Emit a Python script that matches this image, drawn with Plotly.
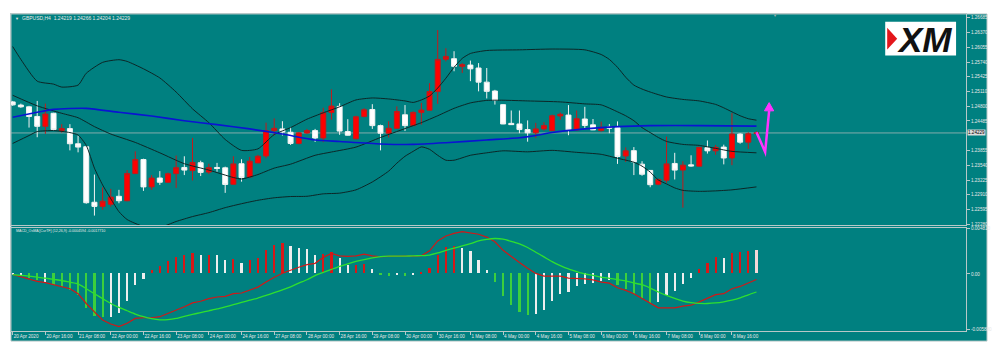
import plotly.graph_objects as go

# ---------------- DATA ----------------
bars = list(range(92))

open_ = [1.24890, 1.24823, 1.24785, 1.24580, 1.24370, 1.24648, 1.24279, 1.24322, 1.23999, 1.23936,
         1.22753, 1.22665, 1.22711, 1.22880, 1.22785, 1.23364, 1.23663, 1.23080, 1.23269, 1.23179,
         1.23364, 1.23494, 1.23427, 1.23595, 1.23395, 1.23494, 1.23486, 1.23136, 1.23574, 1.23290,
         1.23591, 1.23738, 1.24279, 1.24315, 1.24244, 1.24006, 1.24227, 1.24279, 1.24122, 1.24665,
         1.24795, 1.24258, 1.24105, 1.24580, 1.24728, 1.24385, 1.24223, 1.24328, 1.24616, 1.24385,
         1.24665, 1.24715, 1.25111, 1.25799, 1.25810, 1.25648, 1.25675, 1.25612, 1.25311, 1.25122,
         1.24831, 1.24433, 1.24420, 1.24301, 1.24231, 1.24315, 1.24279, 1.24591, 1.24610, 1.24294,
         1.24526, 1.24402, 1.24279, 1.24353, 1.24343, 1.23738, 1.23852, 1.23564, 1.23431, 1.23136,
         1.23223, 1.23579, 1.23438, 1.23549, 1.23522, 1.23915, 1.23848, 1.23928, 1.23696, 1.24206,
         1.24033, 1.24219]
high = [1.24911, 1.24854, 1.24806, 1.24911, 1.24854, 1.24658, 1.24416, 1.24416, 1.24174, 1.23953,
        1.23343, 1.23069, 1.23038, 1.23017, 1.23438, 1.23837, 1.23680, 1.23332, 1.23416, 1.23385,
        1.23747, 1.23732, 1.24122, 1.23638, 1.23574, 1.23591, 1.23511, 1.23732, 1.23669, 1.23717,
        1.23764, 1.24448, 1.24538, 1.24479, 1.24349, 1.24244, 1.24315, 1.24315, 1.24764, 1.25157,
        1.24863, 1.24522, 1.24595, 1.24757, 1.24842, 1.24406, 1.24479, 1.24795, 1.24823, 1.24690,
        1.24869, 1.25290, 1.26420, 1.26033, 1.25970, 1.25717, 1.25770, 1.25717, 1.25612, 1.25147,
        1.24842, 1.24707, 1.24707, 1.24496, 1.24444, 1.24458, 1.24620, 1.24663, 1.24823, 1.24707,
        1.24785, 1.24526, 1.24469, 1.24420, 1.24475, 1.23922, 1.23928, 1.23627, 1.23438, 1.23259,
        1.24153, 1.23806, 1.23627, 1.23753, 1.23932, 1.24069, 1.23974, 1.23979, 1.24652, 1.24223,
        1.24244, 1.24266]
low = [1.24806, 1.24764, 1.24343, 1.24138, 1.24210, 1.24279, 1.24237, 1.23858, 1.23816, 1.22722,
       1.22469, 1.22596, 1.22659, 1.22732, 1.22774, 1.23353, 1.22995, 1.23017, 1.23122, 1.23164,
       1.23059, 1.23332, 1.23217, 1.23311, 1.23353, 1.23402, 1.22953, 1.23122, 1.23191, 1.23269,
       1.23585, 1.23690, 1.24174, 1.24174, 1.23974, 1.23985, 1.24210, 1.24037, 1.24033, 1.24511,
       1.24189, 1.24174, 1.24090, 1.24559, 1.24315, 1.23858, 1.24132, 1.24322, 1.24269, 1.24374,
       1.24406, 1.24711, 1.24848, 1.25753, 1.25543, 1.25507, 1.25332, 1.25115, 1.24964, 1.24833,
       1.24416, 1.24402, 1.24223, 1.24043, 1.24122, 1.24279, 1.24269, 1.24511, 1.24181, 1.24273,
       1.24328, 1.24290, 1.24258, 1.24223, 1.23570, 1.23612, 1.23332, 1.23317, 1.23073, 1.23115,
       1.23170, 1.23238, 1.22638, 1.23511, 1.23511, 1.23789, 1.23764, 1.23560, 1.23543, 1.23999,
       1.23890, 1.24204]
close = [1.24827, 1.24785, 1.24580, 1.24370, 1.24631, 1.24301, 1.24322, 1.23999, 1.23928, 1.22743,
         1.22665, 1.22774, 1.22863, 1.22785, 1.23364, 1.23663, 1.23080, 1.23269, 1.23179, 1.23360,
         1.23490, 1.23438, 1.23600, 1.23389, 1.23490, 1.23473, 1.23132, 1.23570, 1.23280, 1.23627,
         1.23732, 1.24279, 1.24328, 1.24248, 1.24006, 1.24231, 1.24279, 1.24122, 1.24658, 1.24802,
         1.24269, 1.24181, 1.24574, 1.24722, 1.24385, 1.24223, 1.24328, 1.24686, 1.24385, 1.24665,
         1.24717, 1.25111, 1.25795, 1.25858, 1.25648, 1.25683, 1.25595, 1.25311, 1.25115, 1.24928,
         1.24420, 1.24406, 1.24301, 1.24231, 1.24315, 1.24385, 1.24595, 1.24627, 1.24294, 1.24532,
         1.24389, 1.24294, 1.24347, 1.24332, 1.23727, 1.23848, 1.23612, 1.23349, 1.23127, 1.23238,
         1.23570, 1.23438, 1.23543, 1.23528, 1.23922, 1.23848, 1.23922, 1.23696, 1.24206, 1.24033,
         1.24212, 1.24229]

# Bollinger bands and moving average, read at sample bars
bb_upper_x = [0, 1, 3, 5, 6, 8, 9, 11, 13, 14, 16, 18, 20, 22, 24, 26, 28, 30, 32, 34, 36, 38, 40, 42,
              44, 46, 48, 49, 50, 51, 52, 53, 54, 55, 56, 58, 62, 66, 70, 72, 73, 74, 75, 76, 77, 78,
              80, 82, 84, 86, 87, 88, 89, 90, 91]
bb_upper = [1.26069, 1.25795, 1.25332, 1.25269, 1.25206, 1.25248, 1.25500, 1.25732, 1.25789, 1.25753,
            1.25595, 1.25401, 1.25100, 1.24743, 1.24448, 1.24090, 1.23858, 1.23890, 1.24195, 1.24343,
            1.24522, 1.24658, 1.24785, 1.24932, 1.24974, 1.24953, 1.24911, 1.24879, 1.24932, 1.25016,
            1.25185, 1.25395, 1.25627, 1.25816, 1.25921, 1.25985, 1.25999, 1.26016, 1.25999, 1.25900,
            1.25795, 1.25627, 1.25416, 1.25248, 1.25164, 1.25100, 1.24995, 1.24943, 1.24911, 1.24837,
            1.24764, 1.24679, 1.24595, 1.24532, 1.24501]
bb_mid_x = [0, 3, 6, 8, 10, 12, 15, 18, 21, 24, 27, 28, 30, 32, 34, 37, 39, 42, 45, 48, 50, 52, 54, 56,
            58, 60, 63, 67, 70, 72, 74, 75, 76, 77, 78, 79, 80, 82, 84, 86, 88, 91]
bb_mid = [1.25031, 1.24806, 1.24648, 1.24553, 1.24364, 1.24206, 1.24027, 1.23806, 1.23574, 1.23438,
          1.23280, 1.23248, 1.23343, 1.23480, 1.23564, 1.23753, 1.23823, 1.23928, 1.24132, 1.24322,
          1.24448, 1.24595, 1.24753, 1.24869, 1.24922, 1.24926, 1.24911, 1.24890, 1.24848, 1.24827,
          1.24679, 1.24595, 1.24490, 1.24343, 1.24237, 1.24132, 1.24048, 1.23985, 1.23964, 1.23901,
          1.23837, 1.23806]
bb_lower_x = [0, 2, 3, 5, 7, 8, 9, 10, 11, 12, 13, 14, 16, 18, 20, 22, 24, 26, 28, 30, 32, 34, 36, 38,
              40, 42, 44, 46, 47, 48, 49, 50, 51, 52, 53, 54, 56, 58, 60, 63, 66, 69, 72, 74, 76, 77,
              78, 79, 80, 81, 82, 84, 86, 88, 91]
bb_lower = [1.24006, 1.24174, 1.24258, 1.24279, 1.24237, 1.24185, 1.23964, 1.23480, 1.23122, 1.22827,
            1.22553, 1.22385, 1.22238, 1.22217, 1.22343, 1.22448, 1.22532, 1.22638, 1.22722, 1.22795,
            1.22848, 1.22875, 1.22880, 1.22932, 1.22947, 1.23017, 1.23185, 1.23416, 1.23585, 1.23732,
            1.23837, 1.23932, 1.23880, 1.23753, 1.23648, 1.23648, 1.23753, 1.23806, 1.23848, 1.23827,
            1.23858, 1.23816, 1.23774, 1.23690, 1.23606, 1.23522, 1.23395, 1.23227, 1.23143, 1.23059,
            1.23006, 1.22985, 1.22995, 1.23017, 1.23080]
ma_x = [0, 3, 5, 9, 13, 17, 21, 25, 29, 33, 37, 40, 45, 49, 53, 58, 62, 64, 66, 70, 74, 78, 84, 91]
ma = [1.24564, 1.24669, 1.24732, 1.24753, 1.24669, 1.24589, 1.24490, 1.24406, 1.24315, 1.24206,
      1.24080, 1.24048, 1.23995, 1.23985, 1.24021, 1.24080, 1.24126, 1.24174, 1.24237, 1.24315,
      1.24364, 1.24385, 1.24385, 1.24374]

# MACD / OsMA panel
osma = [-0.0001, -0.0001, -0.00052, -0.0007, -0.00087, -0.00122, -0.0014, -0.00175, -0.00227, -0.00367,
        -0.00454, -0.00465, -0.00465, -0.00419, -0.00287, -0.00122, -0.00063, 0.00035, 0.0008, 0.00133,
        0.00175, 0.00192, 0.00217, 0.00199, 0.00199, 0.00199, 0.0014, 0.0015, 0.00115, 0.0014,
        0.00164, 0.00245, 0.00297, 0.00321, 0.00287, 0.00272, 0.00255, 0.00199, 0.0021, 0.00227,
        0.00161, 0.00094, 0.00094, 0.00098, 0.00052, -0.00017, -0.0003, -0.0001, -0.0003, -0.0001,
        0.0001, 0.00063, 0.00192, 0.0028, 0.0029, 0.00272, 0.00238, 0.0014, 0.00035, -0.00087,
        -0.00244, -0.00339, -0.00409, -0.00437, -0.00426, -0.00384, -0.00297, -0.0022, -0.00192, -0.00133,
        -0.00115, -0.00098, -0.00077, -0.0007, -0.00122, -0.00164, -0.0022, -0.00262, -0.00314, -0.00304,
        -0.00227, -0.00182, -0.00115, -0.00052, 0.00052, 0.00112, 0.00175, 0.00164, 0.00217, 0.00227,
        0.00238, 0.00245]
osma_state = ["W", "W", "G", "G", "W", "G", "G", "G", "G", "G",
              "G", "G", "W", "W", "W", "W", "W", "R", "R", "R",
              "R", "R", "R", "W", "R", "W", "W", "R", "W", "R",
              "R", "R", "R", "R", "W", "W", "W", "W", "R", "R",
              "W", "W", "R", "R", "W", "G", "G", "W", "G", "W",
              "R", "R", "R", "R", "R", "W", "W", "W", "W", "G",
              "G", "G", "G", "G", "W", "W", "W", "W", "W", "W",
              "W", "W", "W", "W", "G", "G", "G", "G", "G", "W",
              "W", "W", "W", "W", "R", "R", "R", "W", "R", "R",
              "R", "P"]
macd_line = [-0.00007, -0.0003, -0.00052, -0.0008, -0.00092, -0.00115, -0.0013, -0.00157, -0.0021, -0.00314,
             -0.00402, -0.00489, -0.00531, -0.00559, -0.00524, -0.00472, -0.00465, -0.00465, -0.00454, -0.00419,
             -0.00391, -0.00349, -0.00307, -0.0029, -0.00262, -0.00245, -0.00238, -0.0021, -0.00203, -0.00175,
             -0.0014, -0.00087, -0.00035, 0.00007, 0.00042, 0.0007, 0.00098, 0.00112, 0.00175, 0.00217,
             0.00192, 0.00185, 0.00192, 0.0021, 0.00192, 0.00182, 0.00185, 0.00185, 0.00185, 0.00185,
             0.00192, 0.00245, 0.00349, 0.00402, 0.0043, 0.00447, 0.00437, 0.0042, 0.0039, 0.0034,
             0.0025, 0.0018, 0.0012, 0.0006, 0.00005, -0.00024, -0.00024, -0.00024, -0.00045, -0.00045,
             -0.00052, -0.00063, -0.00087, -0.00098, -0.00147, -0.00175, -0.0021, -0.00262, -0.00314, -0.0036,
             -0.0036, -0.0036, -0.00342, -0.00332, -0.00297, -0.00262, -0.0022, -0.0021, -0.00157, -0.00133,
             -0.00094, -0.00059]
signal_line = [-0.00007, -0.00015, -0.00024, -0.00035, -0.00045, -0.00058, -0.0007, -0.00088, -0.00105, -0.00157,
               -0.0021, -0.00262, -0.00314, -0.00356, -0.00391, -0.00426, -0.00454, -0.00475, -0.00487, -0.00485,
               -0.00472, -0.0045, -0.0043, -0.0041, -0.00391, -0.00372, -0.0035, -0.00327, -0.00302, -0.00279,
               -0.00256, -0.00228, -0.002, -0.0017, -0.00137, -0.00098, -0.00062, -0.00018, 0.00015, 0.00048,
               0.0008, 0.00107, 0.00132, 0.00152, 0.0017, 0.00184, 0.00189, 0.00189, 0.00189, 0.00191,
               0.00194, 0.002, 0.00222, 0.0025, 0.00274, 0.00296, 0.0032, 0.00349, 0.00365, 0.00375,
               0.00368, 0.00345, 0.00318, 0.0028, 0.0023, 0.0018, 0.0013, 0.00088, 0.00052, 0.00025,
               0.0, -0.00016, -0.00034, -0.00047, -0.0006, -0.00075, -0.00096, -0.00115, -0.0015, -0.00192,
               -0.00228, -0.0026, -0.00288, -0.00305, -0.00313, -0.00314, -0.00308, -0.00296, -0.00279, -0.00255,
               -0.00222, -0.00192]

time_tick_bars = [0, 4, 8, 12, 16, 20, 24, 28, 32, 36, 40, 44, 48, 52, 56, 60, 64, 68, 72, 76, 80, 84, 88]
time_tick_labels = ["20 Apr 2020", "20 Apr 16:00", "21 Apr 08:00", "22 Apr 00:00", "22 Apr 16:00",
                    "23 Apr 08:00", "24 Apr 00:00", "24 Apr 16:00", "27 Apr 08:00", "28 Apr 00:00",
                    "28 Apr 16:00", "29 Apr 08:00", "30 Apr 00:00", "30 Apr 16:00", "1 May 08:00",
                    "4 May 00:00", "4 May 16:00", "5 May 08:00", "6 May 00:00", "6 May 16:00",
                    "7 May 08:00", "8 May 00:00", "8 May 16:00"]
price_ticks = [1.26685, 1.26370, 1.26055, 1.25740, 1.25425, 1.25110, 1.24800, 1.24485,
               1.23855, 1.23540, 1.23225, 1.22910, 1.22595, 1.22280]
price_tick_labels = ["1.26685", "1.26370", "1.26055", "1.25740", "1.25425", "1.25110", "1.24800",
                     "1.24485", "1.23855", "1.23540", "1.23225", "1.22910", "1.22595", "1.22280"]
macd_ticks = [0.00481, 0.0, -0.00588]
macd_tick_labels = ["0.004810", "0.00", "-0.005880"]

# arrow drawing (chart object) in bar / price units
arrow_bar = [91.0, 92.06, 92.55]
arrow_price = [1.24244, 1.23823, 1.24700]
arrow_head_bar = [91.98, 92.55, 93.11]
arrow_head_price = [1.24700, 1.24875, 1.24700]

# ---------------- LAYOUT HELPERS ----------------
# page has an 8px body margin: figure is sized to fit the window exactly
OFF = 8
W, H = 1000 - 2 * OFF, 359 - 2 * OFF
def px(x):
    return (x - OFF) / W
def py(y):
    return 1 - (y - OFF) / H

TEAL = "#008080"
FRAME = "#b8c8c8"
TXT = "#e8e8e8"
FONT = "Liberation Sans"

state_color = {"W": "#eeeeee", "G": "#3ccf3c", "R": "#d81818", "P": "#f4d8d8"}

fig = go.Figure()

fig.add_trace(go.Candlestick(
    x=bars, open=open_, high=high, low=low, close=close,
    increasing=dict(line=dict(color="#c41a1a", width=1), fillcolor="#ff0000"),
    decreasing=dict(line=dict(color="#f2f2f2", width=1), fillcolor="#ffffff"),
    whiskerwidth=0, showlegend=False, hoverinfo="skip", xaxis="x", yaxis="y"))

for xs, ys in [(bb_upper_x, bb_upper), (bb_mid_x, bb_mid), (bb_lower_x, bb_lower)]:
    fig.add_trace(go.Scatter(x=xs, y=ys, mode="lines", line=dict(color="#0c2626", width=1, shape="spline", smoothing=0.6),
                             showlegend=False, hoverinfo="skip", xaxis="x", yaxis="y"))
fig.add_trace(go.Scatter(x=ma_x, y=ma, mode="lines", line=dict(color="#0a14d2", width=1.6, shape="spline", smoothing=0.6),
                         showlegend=False, hoverinfo="skip", xaxis="x", yaxis="y"))

fig.add_trace(go.Bar(x=bars, y=osma, width=0.27, marker=dict(color=[state_color[s] for s in osma_state], line=dict(width=0)),
                     showlegend=False, hoverinfo="skip", xaxis="x2", yaxis="y2"))
fig.add_trace(go.Scatter(x=bars, y=macd_line, mode="lines", line=dict(color="#d01818", width=1.2),
                         showlegend=False, hoverinfo="skip", xaxis="x2", yaxis="y2"))
fig.add_trace(go.Scatter(x=bars, y=signal_line, mode="lines", line=dict(color="#2ee02e", width=1.3, shape="spline", smoothing=0.6),
                         showlegend=False, hoverinfo="skip", xaxis="x2", yaxis="y2"))

def price_at(y):
    return 1.27016 - 0.0002105 * y

x_range = [(11 - 12.7) / 8.19, (968 - 12.7) / 8.19]
axis_common = dict(showgrid=False, zeroline=False, showline=True, mirror=True, linecolor=FRAME, linewidth=1)

fig.update_layout(
    width=W, height=H, margin=dict(l=0, r=0, t=0, b=0),
    paper_bgcolor="white", plot_bgcolor=TEAL,
    boxgap=0.13, boxgroupgap=0.3,
    bargap=0,
    xaxis=dict(domain=[px(11), px(968)], range=x_range, anchor="y", showticklabels=False, ticks="",
               rangeslider=dict(visible=False), **axis_common),
    yaxis=dict(domain=[py(226), py(12)], range=[price_at(226), price_at(12)], anchor="x", side="right",
               tickvals=price_ticks, ticktext=price_tick_labels, ticks="outside", ticklen=3, tickcolor=FRAME,
               tickfont=dict(size=4.6, color=TXT, family=FONT), **axis_common),
    xaxis2=dict(domain=[px(11), px(968)], range=x_range, anchor="y2", matches="x",
                tickvals=time_tick_bars, ticktext=time_tick_labels, ticks="outside", ticklen=3, tickcolor=FRAME,
                ticklabelposition="outside right", tickangle=0,
                tickfont=dict(size=4.6, color=TXT, family=FONT), **axis_common),
    yaxis2=dict(domain=[py(333), py(229)], range=[(275 - 333) * 0.0001048, (275 - 229) * 0.0001048], anchor="x2",
                side="right", tickvals=macd_ticks, ticktext=macd_tick_labels, ticks="outside", ticklen=3,
                tickcolor=FRAME, tickfont=dict(size=4.6, color=TXT, family=FONT), **axis_common),
)

shapes = [
    dict(type="rect", xref="paper", yref="paper", x0=px(11), x1=px(989), y0=py(343), y1=py(12),
         fillcolor=TEAL, line=dict(color=FRAME, width=1), layer="below"),
    dict(type="line", xref="x domain", yref="y", x0=0, x1=1, y0=close[-1], y1=close[-1],
         line=dict(color="rgba(175,185,185,0.75)", width=1), layer="below"),
    dict(type="rect", xref="paper", yref="paper", x0=px(887), x1=px(958), y0=py(54), y1=py(20),
         fillcolor="white", line=dict(width=0), layer="above"),
    dict(type="path", xref="paper", yref="paper",
         path=f"M {px(889)},{py(26)} L {px(899)},{py(37)} L {px(889)},{py(48)} Z",
         fillcolor="#e3161b", line=dict(width=0), layer="above"),
    dict(type="path", xref="x", yref="y",
         path="M {},{} L {},{} L {},{}".format(arrow_bar[0], arrow_price[0], arrow_bar[1], arrow_price[1],
                                               arrow_bar[2], arrow_price[2]),
         line=dict(color="#ff33ff", width=2.5), layer="above"),
    dict(type="path", xref="x", yref="y",
         path="M {},{} L {},{} L {},{} Z".format(arrow_head_bar[0], arrow_head_price[0], arrow_head_bar[1],
                                                 arrow_head_price[1], arrow_head_bar[2], arrow_head_price[2]),
         fillcolor="#ff33ff", line=dict(color="#ff33ff", width=1), layer="above"),
]
fig.update_layout(shapes=shapes)

annotations = [
    dict(xref="paper", yref="paper", x=px(13), y=py(16.5), xanchor="left", yanchor="middle", showarrow=False,
         text="▼", font=dict(size=4, color=TXT, family=FONT)),
    dict(xref="paper", yref="paper", x=px(20), y=py(16.5), xanchor="left", yanchor="middle", showarrow=False,
         text="GBPUSD,H4  1.24219 1.24266 1.24204 1.24229", font=dict(size=5, color=TXT, family=FONT)),
    dict(xref="paper", yref="paper", x=px(14), y=py(232), xanchor="left", yanchor="middle", showarrow=False,
         text="MACD_OsMA [CurTF] (12,26,9) -0.0004594 -0.0017710", font=dict(size=3.6, color=TXT, family=FONT)),
    dict(xref="paper", yref="y", x=px(969), y=close[-1], xanchor="left", yanchor="middle", showarrow=False,
         text="1.24229", bgcolor="#dcdcdc", borderpad=0, font=dict(size=4.6, color="#000000", family=FONT)),
    dict(xref="paper", yref="paper", x=px(777), y=py(14), xanchor="center", yanchor="middle", showarrow=False,
         text="▼", font=dict(size=4, color="#a0b0b0", family=FONT)),
    dict(xref="paper", yref="paper", x=px(926), y=py(37.5), xanchor="center", yanchor="middle", showarrow=False,
         text="<b><i>XM</i></b>", font=dict(size=35, color="#111111", family=FONT)),
]
fig.update_layout(annotations=annotations)

fig.write_html("out.html")
